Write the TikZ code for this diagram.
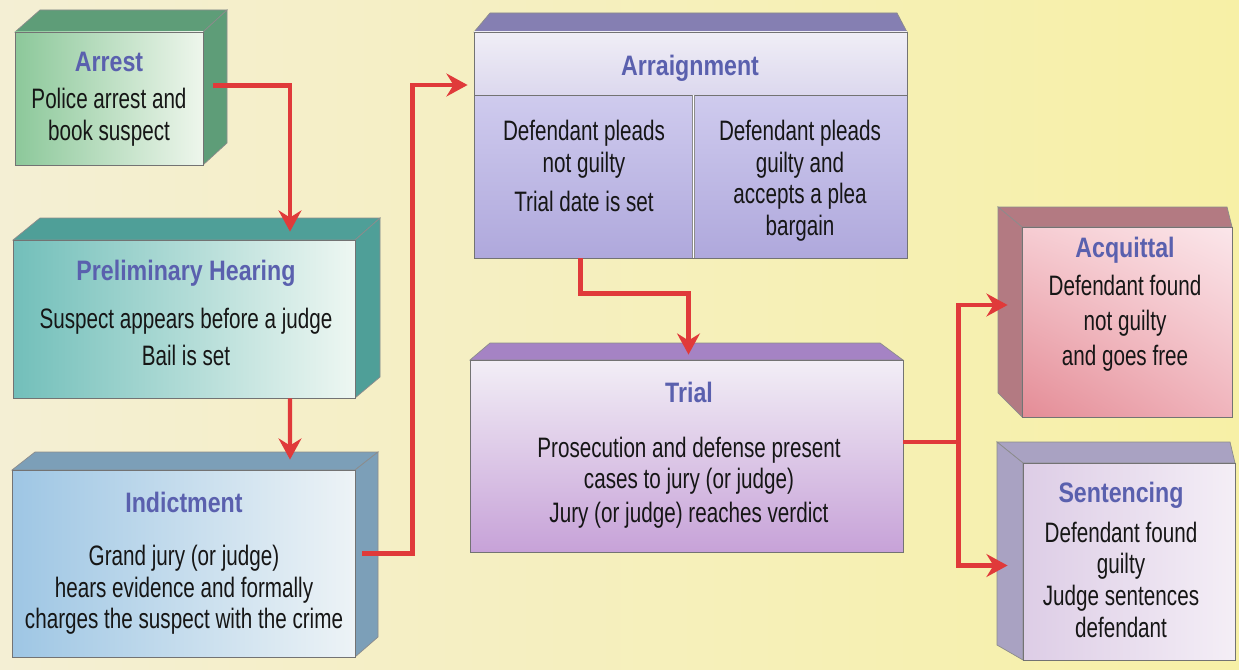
\documentclass[tikz,border=0pt]{standalone}
\usepackage{fontspec}
\setmainfont{Liberation Sans}[FakeStretch=0.735]
\newfontfamily\ttlfont{Liberation Sans}[FakeStretch=0.825]
\usetikzlibrary{arrows.meta,calc,fit,shadings}

\definecolor{paperL}{HTML}{F4EFD4}
\definecolor{paperR}{HTML}{F7F0A6}
\definecolor{ink}{HTML}{161616}
\definecolor{ttl}{HTML}{5A60AE}
\definecolor{flowred}{HTML}{E03A3A}
\definecolor{grnside}{HTML}{5E9D78}
\definecolor{grnA}{HTML}{8CC89A}
\definecolor{grnB}{HTML}{EEF6EC}
\definecolor{tealside}{HTML}{4F9F98}
\definecolor{tealA}{HTML}{72BFBA}
\definecolor{tealB}{HTML}{EEF7F2}
\definecolor{blueside}{HTML}{7C9FB8}
\definecolor{blueA}{HTML}{9EC6E4}
\definecolor{blueB}{HTML}{EDF3F6}
\definecolor{lavside}{HTML}{857FB2}
\definecolor{lavhead}{HTML}{DCD8EE}
\definecolor{lavtop}{HTML}{F0EEF6}
\definecolor{lavA}{HTML}{CFCBEE}
\definecolor{lavB}{HTML}{AFA8DC}
\definecolor{plumside}{HTML}{A583C4}
\definecolor{plumA}{HTML}{F2EEF6}
\definecolor{plumB}{HTML}{C7A2D8}
\definecolor{roseside}{HTML}{B37A82}
\definecolor{roseUL}{HTML}{F6CCD2}
\definecolor{roseUR}{HTML}{FBE6EA}
\definecolor{roseLL}{HTML}{E48C96}
\definecolor{roseLR}{HTML}{F0B4BC}
\definecolor{lilside}{HTML}{A9A2C2}
\definecolor{lilA}{HTML}{DDCDE6}
\definecolor{lilB}{HTML}{F4EEF6}

\tikzset{
  face/.style={inner sep=0pt, draw=black!55, line width=0.5pt},
  depth/.style={draw=black!45, line width=0.4pt},
  txt/.style={align=center, text=ink, font=\fontsize{16}{18}\selectfont, inner sep=0pt, anchor=north},
  flow/.style={draw=flowred, line width=2.4pt, -{Stealth[length=12pt,width=13pt,inset=4pt]}},
}
\newcommand{\ttlf}[1]{{\ttlfont\bfseries\color{ttl}#1}}

\begin{document}
\begin{tikzpicture}[x=0.02cm, y=-0.02cm]
\fill[left color=paperL, right color=paperR] (0,0) rectangle (1239,669);
\useasboundingbox (0,0) rectangle (1239,669);

\coordinate (arrTL) at (15,32);
\coordinate (arrBR) at (203,165);
\coordinate (preTL) at (13,240);
\coordinate (preBR) at (355,398);
\coordinate (indTL) at (12,470);
\coordinate (indBR) at (355,657);
\coordinate (araTL) at (474,32);
\coordinate (araBR) at (907,258);
\coordinate (araHR) at (907,95);
\coordinate (araHL) at (474,95);
\coordinate (araMT) at (693,95);
\coordinate (araMB) at (693,258);
\coordinate (triTL) at (470,360);
\coordinate (triBR) at (903,552);
\coordinate (acqTL) at (1022,227);
\coordinate (acqBR) at (1232,417);
\coordinate (senTL) at (1023,463);
\coordinate (senBR) at (1235,660);

% depth faces
\fill[grnside, depth] (15,32) -- (40,10) -- (227,10) -- (203,32) -- cycle;
\fill[grnside, depth] (203,32) -- (227,10) -- (227,143) -- (203,165) -- cycle;
\fill[tealside, depth] (13,240) -- (40,218) -- (380,218) -- (355,240) -- cycle;
\fill[tealside, depth] (355,240) -- (380,218) -- (380,377) -- (355,398) -- cycle;
\fill[blueside, depth] (12,470) -- (35,452) -- (378,452) -- (355,470) -- cycle;
\fill[blueside, depth] (355,470) -- (378,452) -- (378,637) -- (355,657) -- cycle;
\fill[lavside, depth] (474,32) -- (490,13) -- (897,13) -- (907,32) -- cycle;
\fill[plumside, depth] (470,360) -- (490,343) -- (880,343) -- (903,360) -- cycle;
\fill[roseside, depth] (1022,227) -- (998,207) -- (1227,207) -- (1232,227) -- cycle;
\fill[roseside, depth] (1022,227) -- (998,207) -- (998,393) -- (1022,417) -- cycle;
\fill[lilside, depth] (1023,463) -- (997,442) -- (1230,442) -- (1235,463) -- cycle;
\fill[lilside, depth] (1023,463) -- (997,442) -- (997,645) -- (1023,660) -- cycle;

% front faces
\node[face, fit=(arrTL)(arrBR), left color=grnA, right color=grnB] (arrest) {};
\node[face, fit=(preTL)(preBR), left color=tealA, right color=tealB] (prelim) {};
\node[face, fit=(indTL)(indBR), left color=blueA, right color=blueB] (indict) {};
\node[face, fit=(araTL)(araBR)] (arraign) {};
\node[face, fit=(araTL)(araHR), top color=lavtop, bottom color=lavhead] (arraignhead) {};
\node[face, fit=(araHL)(araMB), top color=lavA, bottom color=lavB] (pleanot) {};
\node[face, fit=(araMT)(araBR), top color=lavA, bottom color=lavB] (pleaguilty) {};
\draw[draw=black!45, double=white, double distance=0.8pt] (pleanot.north east) -- (pleanot.south east);
\node[face, fit=(triTL)(triBR), top color=plumA, bottom color=plumB] (trial) {};
\node[face, fit=(acqTL)(acqBR), upper left=roseUL, upper right=roseUR,
      lower left=roseLL, lower right=roseLR] (acquit) {};
\node[face, fit=(senTL)(senBR), left color=lilA, right color=lilB] (sentence) {};

% texts
\node[txt] (arresttxt) at (109,52) {\ttlf{Arrest}\\[3pt] Police arrest and\\ book suspect};
\node[txt] (prelimtxt) at (186,260) {\ttlf{Preliminary Hearing}\\[9pt] Suspect appears before a judge\\[3pt] Bail is set};
\node[txt] (indicttxt) at (184,492) {\ttlf{Indictment}\\[12pt] Grand jury (or judge)\\ hears evidence and formally\\ charges the suspect with the crime};
\node[txt] (arraigntxt) at (690,55) {\ttlf{Arraignment}};
\node[txt] (pleanottxt) at (584,120) {Defendant pleads\\ not guilty\\[4.5pt] Trial date is set};
\node[txt] (pleaguiltytxt) at (800,120) {Defendant pleads\\ guilty and\\ accepts a plea\\ bargain};
\node[txt] (trialtxt) at (689,382) {\ttlf{Trial}\\[13pt] Prosecution and defense present\\ cases to jury (or judge)\\[1pt] Jury (or judge) reaches verdict};
\node[txt] (acquittxt) at (1125,237) {\ttlf{Acquittal}\\[3.5pt] Defendant found\\[2pt] not guilty\\[2pt] and goes free};
\node[txt] (sentencetxt) at (1121,482) {\ttlf{Sentencing}\\[4.5pt] Defendant found\\ guilty\\ Judge sentences\\ defendant};

% connectors
\draw[flow] ($(arrest.east)+(10,-13)$) -| ($(prelim.north)+(106,-8)$);
\draw[flow] ($(prelim.south)+(106,0)$) -- ($(indict.north)+(106.5,-10)$);
\draw[flow] ($(indict.east)+(7,-10)$) -- ++(50,0) |- ($(arraign.west)+(-6,-60)$);
\draw[flow] ($(arraign.south)+(-110,0)$) -- ++(0,35) -| ($(trial.north)+(2,-5)$);
\draw[flow] ($(trial.east)+(0,-14)$) -- ++(55,0) coordinate (verdict) |- ($(acquit.west)+(-14,-17)$);
\draw[flow] (verdict) |- ($(sentence.west)+(-15,4)$);

\end{tikzpicture}
\end{document}
